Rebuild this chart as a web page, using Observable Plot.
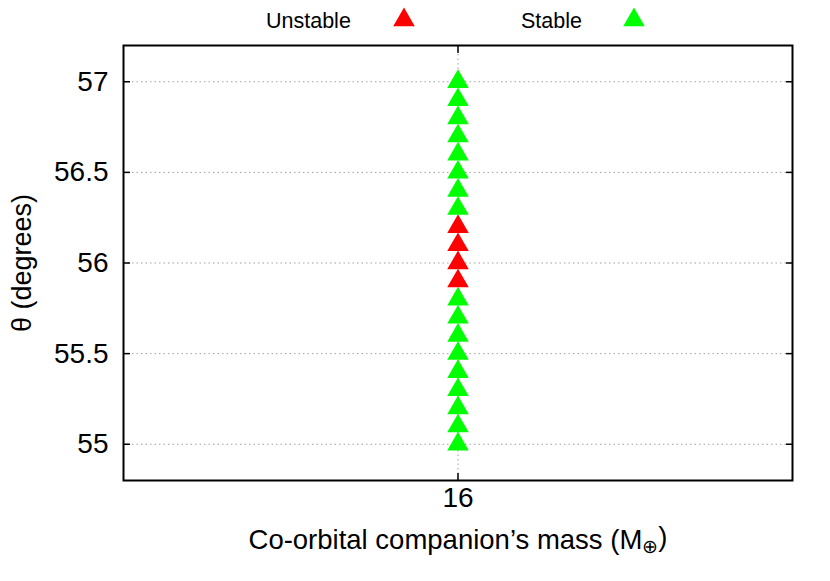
<!DOCTYPE html>
<html><head><meta charset="utf-8">
<script src="https://cdn.jsdelivr.net/npm/d3@7"></script>
<script src="https://cdn.jsdelivr.net/npm/@observablehq/plot@0.6"></script>
<style>
body{margin:0;background:#fff;font-family:"Liberation Sans",Arial,Helvetica,sans-serif;}
#wrap{position:relative;width:830px;height:581px;}
#legend{position:absolute;left:0;top:0;}
</style></head><body>
<div id="wrap"><div id="chart"></div><svg id="legend" width="830" height="42"></svg></div>
<script>
// ---- data ----
const companionMass = 16;
const thetaValues = [55.0, 55.1, 55.2, 55.3, 55.4, 55.5, 55.6, 55.7, 55.8, 55.9, 56.0, 56.1, 56.2, 56.3, 56.4, 56.5, 56.6, 56.7, 56.8, 56.9, 57.0];
const statusValues = ["Stable","Stable","Stable","Stable","Stable","Stable","Stable","Stable","Stable",
  "Unstable","Unstable","Unstable","Unstable",
  "Stable","Stable","Stable","Stable","Stable","Stable","Stable","Stable"];
const statusNames = ["Unstable", "Stable"];
const statusColors = ["#ff0000", "#00ff00"];
const xTicks = [16];
const yTicks = [55, 55.5, 56, 56.5, 57];
const xLabel = "Co-orbital companion\u2019s mass (M\u2295)";
const yLabel = "\u03b8 (degrees)";

const data = thetaValues.map((t, i) => ({mass: companionMass, theta: t, status: statusValues[i]}));

const FONT = "Liberation Sans, Arial, Helvetica, sans-serif";
const gridStyle = {stroke: "#a0a0a0", strokeOpacity: 1, strokeDasharray: "1.5,3", strokeWidth: 1};
const tickStyle = {tickSize: -7, tickFormat: () => "", label: null, stroke: "#000", strokeWidth: 1.5};

const chart = Plot.plot({
  width: 830, height: 581,
  marginTop: 45, marginRight: 38, marginBottom: 101, marginLeft: 123,
  style: {fontFamily: FONT, fontSize: "27px", background: "#fff", color: "#000"},
  x: {domain: [14, 18]},
  y: {domain: [54.8, 57.2]},
  color: {domain: statusNames, range: statusColors},
  marks: [
    Plot.gridY(yTicks, gridStyle),
    Plot.gridX(xTicks, gridStyle),
    Plot.dot(data, {x: "mass", y: "theta", fill: "status", symbol: "triangle", r: 8, stroke: "none"}),
    Plot.axisY(yTicks, {anchor: "left", tickSize: 0, tickPadding: 15, tickFormat: d => String(d), fontSize: 28,
      label: yLabel, labelAnchor: "center", labelOffset: 112, labelArrow: "none"}),
    Plot.axisY(yTicks, {anchor: "left", ...tickStyle}),
    Plot.axisY(yTicks, {anchor: "right", ...tickStyle}),
    Plot.axisX(xTicks, {anchor: "bottom", tickSize: 0, tickPadding: 7, tickFormat: d => String(d), fontSize: 28,
      label: xLabel, labelAnchor: "center", labelOffset: 68, labelArrow: "none"}),
    Plot.axisX(xTicks, {anchor: "bottom", ...tickStyle}),
    Plot.axisX(xTicks, {anchor: "top", ...tickStyle}),
    Plot.frame({stroke: "#000", strokeWidth: 2})
  ]
});
document.getElementById("chart").appendChild(chart);

// axis title sizes, and subscript for the Earth symbol in the x label
d3.select(chart).selectAll("text").filter(function() { return this.textContent === yLabel; })
  .attr("font-size", 27);
d3.select(chart).selectAll("text").filter(function() { return this.textContent === xLabel; }).each(function() {
  const t = d3.select(this);
  t.attr("font-size", 27.5);
  t.text(null);
  t.append("tspan").text("Co-orbital companion\u2019s mass (M");
  t.append("tspan").attr("dy", "0.25em").attr("font-size", "70%").text("\u2295");
  t.append("tspan").attr("dy", "-0.25em").text(")");
});

// ---- legend ----
const legendItems = statusNames.map((name, i) => ({name, color: statusColors[i]}));
const legendLayout = [{textX: 266, symX: 404}, {textX: 521, symX: 634}];
const lg = d3.select("#legend");
const tri = d3.symbol(d3.symbolTriangle, Math.PI * 8 * 8)();
legendItems.forEach((it, i) => {
  lg.append("text").attr("x", legendLayout[i].textX).attr("y", 28)
    .attr("font-family", FONT).attr("font-size", 21.5).attr("fill", "#000").text(it.name);
  lg.append("path").attr("d", tri).attr("transform", `translate(${legendLayout[i].symX},20)`).attr("fill", it.color);
});
</script>
</body></html>
